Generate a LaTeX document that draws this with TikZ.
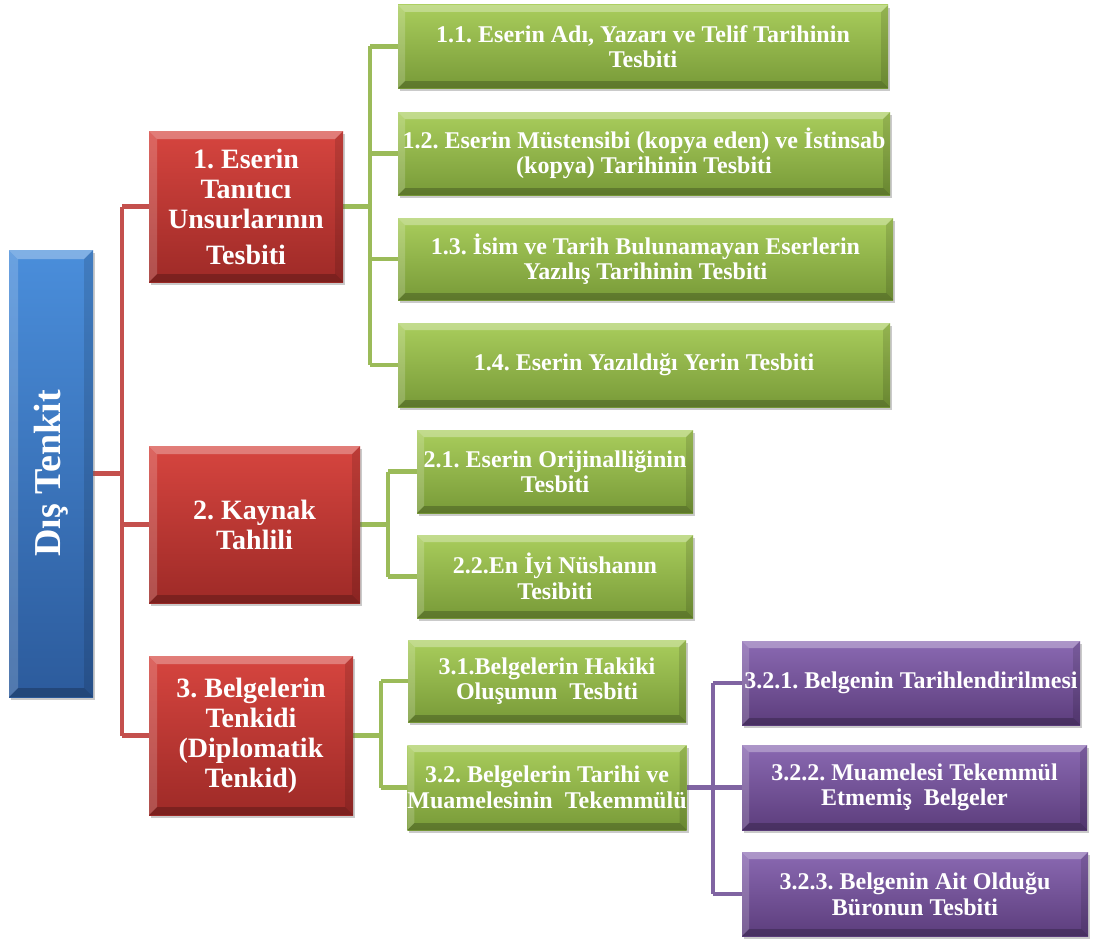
\documentclass[tikz,border=0pt]{standalone}
\usepackage{fontspec}
\setmainfont{Liberation Serif}
\usepackage{graphicx}
\frenchspacing
\usetikzlibrary{shadows,backgrounds}
\definecolor{redtop}{HTML}{D6453F}
\definecolor{redbot}{HTML}{9E2A27}
\definecolor{greentop}{HTML}{A9CD5C}
\definecolor{greenbot}{HTML}{789A38}
\definecolor{purptop}{HTML}{8A69B2}
\definecolor{purpbot}{HTML}{5C3D7C}
\definecolor{bluetop}{HTML}{4A8EDB}
\definecolor{bluebot}{HTML}{2C5B9C}
\definecolor{redln}{HTML}{C4504D}
\definecolor{greenln}{HTML}{9BBB59}
\definecolor{purpln}{HTML}{8064A2}
\tikzset{
  bevel/.style={path picture={
    \path (path picture bounding box.north west) coordinate (bvnw)
          (path picture bounding box.north east) coordinate (bvne)
          (path picture bounding box.south west) coordinate (bvsw)
          (path picture bounding box.south east) coordinate (bvse);
    \fill[white,opacity=.30] (bvnw) -- (bvne) -- ([shift={(-#1,-#1)}]bvne) -- ([shift={(#1,-#1)}]bvnw) -- cycle;
    \fill[white,opacity=.18] (bvnw) -- ([shift={(#1,-#1)}]bvnw) -- ([shift={(#1,#1)}]bvsw) -- (bvsw) -- cycle;
    \fill[black,opacity=.12] (bvne) -- ([shift={(-#1,-#1)}]bvne) -- ([shift={(-#1,#1)}]bvse) -- (bvse) -- cycle;
    \fill[black,opacity=.22] (bvsw) -- ([shift={(#1,#1)}]bvsw) -- ([shift={(-#1,#1)}]bvse) -- (bvse) -- cycle;
  }},
  box/.style={rectangle, inner sep=0pt, align=center, text=white,
    drop shadow={shadow xshift=2pt, shadow yshift=-3pt, opacity=.35, fill=black!60}},
  rootbox/.style={box, bevel=9pt, top color=bluetop, bottom color=bluebot,
    font=\fontsize{38}{42}\selectfont\bfseries},
  redbox/.style={box, bevel=8pt, top color=redtop, bottom color=redbot,
    font=\fontsize{28}{30}\selectfont\bfseries},
  greenbox/.style={box, bevel=7pt, top color=greentop, bottom color=greenbot,
    font=\fontsize{24}{25.5}\selectfont\bfseries},
  purpbox/.style={box, bevel=7pt, top color=purptop, bottom color=purpbot,
    font=\fontsize{24}{25.5}\selectfont\bfseries},
  redline/.style={draw=redln, line width=4.5pt},
  greenline/.style={draw=greenln, line width=4.5pt},
  purpline/.style={draw=purpln, line width=4.5pt},
}
\begin{document}
\begin{tikzpicture}[x=1pt,y=-1pt]
\useasboundingbox (0,0) rectangle (1094,942);

% connector buses
\coordinate (busA) at (122,0);
\coordinate (busB) at (370,0);
\coordinate (busC) at (388,0);
\coordinate (busD) at (381,0);
\coordinate (busE) at (713,0);

% nodes
\node[rootbox, minimum width=84pt, minimum height=447pt] (root) at (51,473.5) {\rotatebox{90}{Dış Tenkit}};

\node[redbox, minimum width=194pt, minimum height=151pt] (r1) at (246,206.5) {1. Eserin\\Tanıtıcı\\Unsurlarının\\[6pt]Tesbiti};
\node[redbox, minimum width=211pt, minimum height=157pt] (r2) at (254.5,524.5) {2. Kaynak\\Tahlili};
\node[redbox, minimum width=204pt, minimum height=159pt] (r3) at (251,735.5) {3. Belgelerin\\Tenkidi\\(Diplomatik\\Tenkid)};

\node[greenbox, minimum width=490pt, minimum height=83pt] (g11) at (643,46.5) {1.1. Eserin Adı, Yazarı ve Telif Tarihinin\\Tesbiti};
\node[greenbox, minimum width=492pt, minimum height=83pt] (g12) at (644,153.5) {1.2. Eserin Müstensibi (kopya eden) ve İstinsab\\(kopya) Tarihinin Tesbiti};
\node[greenbox, minimum width=495pt, minimum height=82pt] (g13) at (645.5,259) {1.3. İsim ve Tarih Bulunamayan Eserlerin\\Yazılış Tarihinin Tesbiti};
\node[greenbox, minimum width=492pt, minimum height=84pt] (g14) at (644,365) {1.4. Eserin Yazıldığı Yerin Tesbiti};

\node[greenbox, minimum width=276pt, minimum height=83pt] (g21) at (555,471.5) {2.1. Eserin Orijinalliğinin\\Tesbiti};
\node[greenbox, minimum width=276pt, minimum height=83pt] (g22) at (555,576.5) {2.2.En İyi Nüshanın\\Tesibiti};

\node[greenbox, minimum width=278pt, minimum height=82pt] (g31) at (547,681) {3.1.Belgelerin Hakiki\\Oluşunun\ \ Tesbiti};
\node[greenbox, minimum width=278pt, minimum height=85pt] (g32) at (547,787.5) {3.2. Belgelerin Tarihi ve\\Muamelesinin\ \ Tekemmülü};

\node[purpbox, minimum width=338pt, minimum height=84pt] (p1) at (911,683) {3.2.1. Belgenin Tarihlendirilmesi};
\node[purpbox, minimum width=345pt, minimum height=85pt] (p2) at (914.5,787.5) {3.2.2. Muamelesi Tekemmül\\Etmemiş\ \ Belgeler};
\node[purpbox, minimum width=346pt, minimum height=84pt] (p3) at (915,894) {3.2.3. Belgenin Ait Olduğu\\Büronun Tesbiti};

% connectors (drawn behind boxes)
\begin{scope}[on background layer]
\path[redline] (root.east) -- (busA |- root.east);
\path[redline] (busA |- r1.west) -- (busA |- r3.west);
\path[redline] (busA |- r1.west) -- (r1.west);
\path[redline] (busA |- r2.west) -- (r2.west);
\path[redline] (busA |- r3.west) -- (r3.west);

\path[greenline] (r1.east) -- (busB |- r1.east);
\path[greenline] (busB |- g11.west) -- (busB |- g14.west);
\path[greenline] (busB |- g11.west) -- (g11.west);
\path[greenline] (busB |- g12.west) -- (g12.west);
\path[greenline] (busB |- g13.west) -- (g13.west);
\path[greenline] (busB |- g14.west) -- (g14.west);

\path[greenline] (r2.east) -- (busC |- r2.east);
\path[greenline] (busC |- g21.west) -- (busC |- g22.west);
\path[greenline] (busC |- g21.west) -- (g21.west);
\path[greenline] (busC |- g22.west) -- (g22.west);

\path[greenline] (r3.east) -- (busD |- r3.east);
\path[greenline] (busD |- g31.west) -- (busD |- g32.west);
\path[greenline] (busD |- g31.west) -- (g31.west);
\path[greenline] (busD |- g32.west) -- (g32.west);

\path[purpline] (g32.east) -- (busE |- g32.east);
\path[purpline] (busE |- p1.west) -- (busE |- p3.west);
\path[purpline] (busE |- p1.west) -- (p1.west);
\path[purpline] (busE |- p2.west) -- (p2.west);
\path[purpline] (busE |- p3.west) -- (p3.west);
\end{scope}
\end{tikzpicture}
\end{document}
